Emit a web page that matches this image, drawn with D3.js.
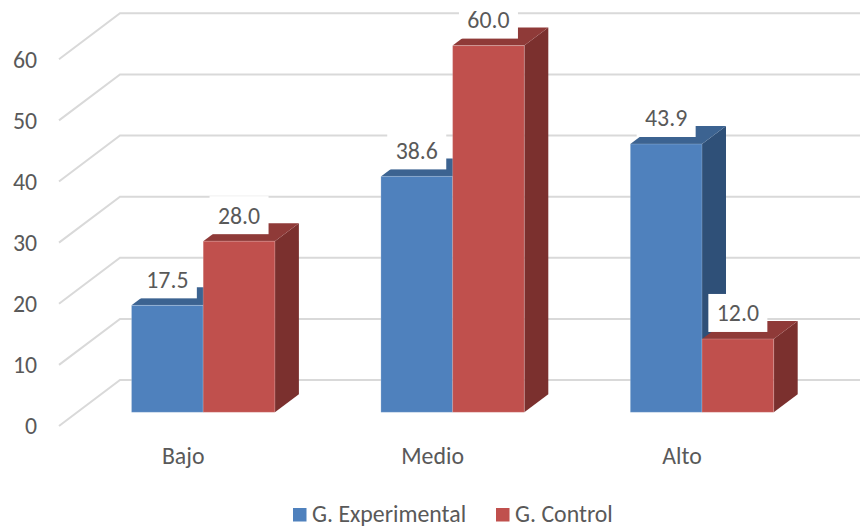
<!DOCTYPE html>
<html>
<head>
<meta charset="utf-8">
<script src="https://cdn.jsdelivr.net/npm/d3@7"></script>
<style>
  html, body { margin: 0; padding: 0; background: #fff; }
  svg { display: block; }
  text { font-family: Carlito, Calibri, Lato, sans-serif; fill: #595959; }
</style>
</head>
<body>
<div id="chart"></div>
<script>
// Values
const categories = ['Bajo', 'Medio', 'Alto'];
const seriesNames = ['G. Experimental', 'G. Control'];
const experimental = [17.5, 38.6, 43.9];
const control = [28.0, 60.0, 12.0];
const yTicks = [0, 10, 20, 30, 40, 50, 60];

const width = 860;
const height = 527;
const fontSize = 23.8;

// Depth offset of the fake 3D box
const depth = {x: 24, y: -18};
const wallDepth = {x: 61, y: -46};

const colors = {
  'G. Experimental': {front: '#4f81bd', top: '#3c6391', side: '#2f5078'},
  'G. Control': {front: '#c0504d', top: '#8f3a38', side: '#7b302e'}
};

const x0 = d3.scaleBand().domain(categories).range([78.5, 826.7]).paddingInner(0.425).paddingOuter(0.2125);
const x1 = d3.scaleBand().domain(seriesNames).range([0, x0.bandwidth()]);
const y = d3.scaleLinear().domain([0, 60]).range([412.3, 45.6]);

const svg = d3.select('#chart').append('svg')
  .attr('width', width)
  .attr('height', height);

// Gridlines: the slanted floor part, then along the back wall
const wallY = d => y(d) + 13.7;
svg.append('g').selectAll('path')
  .data(yTicks).enter()
  .append('path')
  .attr('fill', 'none')
  .attr('stroke', '#d9d9d9')
  .attr('stroke-width', 2)
  .attr('d', d => d3.line()([
    [59, wallY(d)],
    [59 + wallDepth.x, wallY(d) + wallDepth.y],
    [width, wallY(d) + wallDepth.y]
  ]));

// Y axis labels
svg.append('g').selectAll('text')
  .data(yTicks).enter()
  .append('text')
  .attr('x', 37)
  .attr('y', d => wallY(d))
  .attr('dy', '.35em')
  .attr('text-anchor', 'end')
  .attr('font-size', fontSize)
  .text(d => d);

// Bars
const rows = [];
categories.forEach((c, i) => {
  rows.push({cat: c, name: seriesNames[0], value: experimental[i]});
  rows.push({cat: c, name: seriesNames[1], value: control[i]});
});

const line = d3.line();
const bars = svg.append('g').selectAll('g')
  .data(rows).enter()
  .append('g');

bars.append('path')
  .attr('fill', d => colors[d.name].side)
  .attr('d', d => {
    const r = x0(d.cat) + x1(d.name) + x1.bandwidth();
    return line([[r, y(d.value)], [r + depth.x, y(d.value) + depth.y], [r + depth.x, y(0) + depth.y], [r, y(0)]]) + 'Z';
  });

bars.append('path')
  .attr('fill', d => colors[d.name].top)
  .attr('d', d => {
    const l = x0(d.cat) + x1(d.name);
    const r = l + x1.bandwidth();
    const t = y(d.value);
    return line([[l, t], [l + depth.x, t + depth.y], [r + depth.x, t + depth.y], [r, t]]) + 'Z';
  });

bars.append('rect')
  .attr('x', d => x0(d.cat) + x1(d.name))
  .attr('y', d => y(d.value))
  .attr('width', x1.bandwidth())
  .attr('height', d => y(0) - y(d.value))
  .attr('fill', d => colors[d.name].front)
  .attr('stroke', '#fff')
  .attr('stroke-opacity', 0.2);

// Data labels with their white boxes
const labels = svg.append('g').selectAll('g')
  .data(rows).enter()
  .append('g')
  .attr('transform', d => 'translate(' + (x0(d.cat) + x1(d.name) + x1.bandwidth() / 2) + ',' + (y(d.value) - 26) + ')');

labels.append('rect')
  .attr('x', -29.5)
  .attr('y', -19)
  .attr('width', 59)
  .attr('height', 38)
  .attr('fill', '#fff');

labels.append('text')
  .attr('text-anchor', 'middle')
  .attr('dy', '.35em')
  .attr('font-size', fontSize)
  .text(d => d.value.toFixed(1));

// Category labels sit a bit left of the bars, on the front of the floor
svg.append('g').selectAll('text')
  .data(categories).enter()
  .append('text')
  .attr('x', d => x0(d) + x0.bandwidth() / 2 - 20)
  .attr('y', 456)
  .attr('dy', '.35em')
  .attr('text-anchor', 'middle')
  .attr('font-size', fontSize)
  .text(d => d);

// Legend
const legendX = d3.scaleOrdinal().domain(seriesNames).range([293, 496]);
const legend = svg.append('g').selectAll('g')
  .data(seriesNames).enter()
  .append('g')
  .attr('transform', d => 'translate(' + legendX(d) + ',508)');

legend.append('rect')
  .attr('width', 13.5)
  .attr('height', 13.5)
  .attr('fill', d => colors[d].front);

legend.append('text')
  .attr('x', 19)
  .attr('y', 5.3)
  .attr('dy', '.35em')
  .attr('font-size', fontSize)
  .text(d => d);
</script>
</body>
</html>
